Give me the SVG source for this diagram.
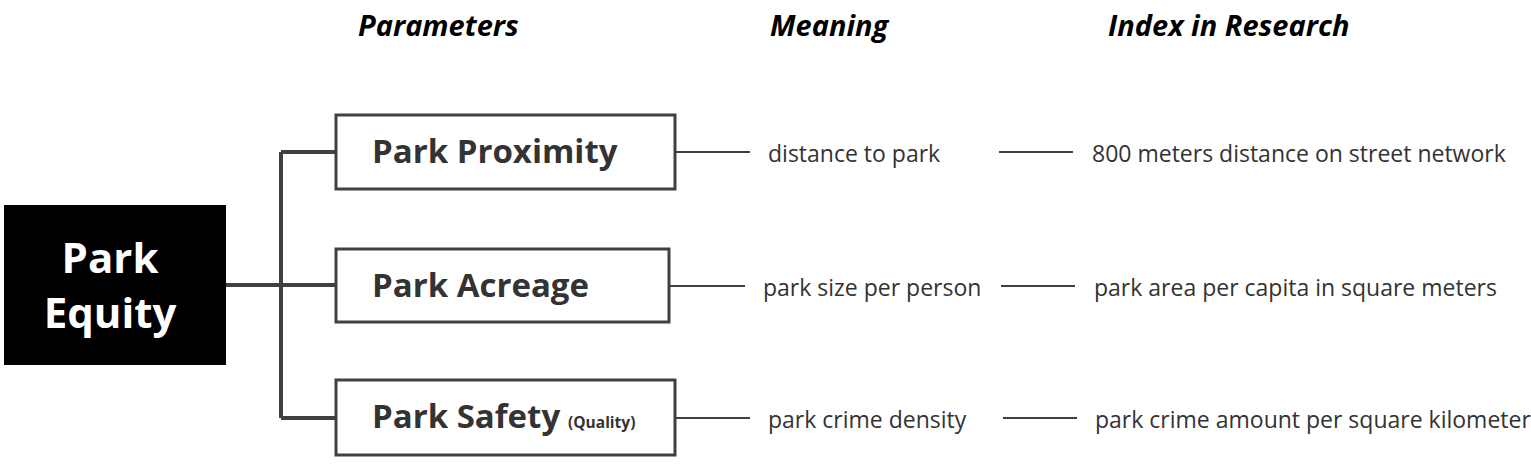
<svg xmlns="http://www.w3.org/2000/svg" width="1531" height="472" viewBox="0 0 1531 472">
<style>
.hdr{font-family:"Open Sans","Noto Sans",sans-serif;font-weight:700;font-style:italic;font-size:29px;fill:#000}
.box{fill:#fff;stroke:#404040;stroke-width:3}
.bt{font-family:"Open Sans","Noto Sans",sans-serif;font-weight:700;font-size:33px;fill:#333}
.sm{font-family:"Open Sans","Noto Sans",sans-serif;font-weight:700;font-size:15.5px;fill:#333}
.tx{font-family:"Open Sans","Noto Sans",sans-serif;font-size:23px;fill:#333}
.con{stroke:#404040;stroke-width:4;fill:none}
.thin{stroke:#404040;stroke-width:2;fill:none}
</style>
<rect width="1531" height="472" fill="#fff"/>
<g id="headers">
<text class="hdr" x="358" y="36">Parameters</text>
<text class="hdr" x="770" y="36">Meaning</text>
<text class="hdr" x="1108" y="36">Index in Research</text>
</g>
<g id="connectors">
<path class="con" d="M226 285H335M281 152V418M281 152H335M281 418H335"/>
<path class="thin" d="M675 152H750M999 152H1073M669 286H745M1001 286H1075M675 418H750M1003 418H1077"/>
</g>
<g id="park-equity">
<rect x="4" y="205" width="222" height="160" fill="#000"/>
<text x="110" y="273" text-anchor="middle" font-family="Open Sans, Noto Sans, sans-serif" font-weight="700" font-size="42" fill="#fff">Park</text>
<text x="110" y="328" text-anchor="middle" font-family="Open Sans, Noto Sans, sans-serif" font-weight="700" font-size="42" fill="#fff">Equity</text>
</g>
<g id="park-proximity">
<rect class="box" x="336" y="115" width="339" height="74"/>
<text class="bt" x="372" y="163">Park Proximity</text>
</g>
<g id="park-acreage">
<rect class="box" x="336" y="249" width="333" height="73"/>
<text class="bt" x="372" y="297">Park Acreage</text>
</g>
<g id="park-safety">
<rect class="box" x="336" y="380" width="339" height="75"/>
<text class="bt" x="372" y="428">Park Safety</text>
<text class="sm" x="568" y="428">(Quality)</text>
</g>
<g id="meaning">
<text class="tx" x="768" y="162">distance to park</text>
<text class="tx" x="763" y="296">park size per person</text>
<text class="tx" x="768" y="428">park crime density</text>
</g>
<g id="index">
<text class="tx" x="1092" y="162">800 meters distance on street network</text>
<text class="tx" x="1094" y="296">park area per capita in square meters</text>
<text class="tx" x="1095" y="428">park crime amount per square kilometer</text>
</g>
</svg>
